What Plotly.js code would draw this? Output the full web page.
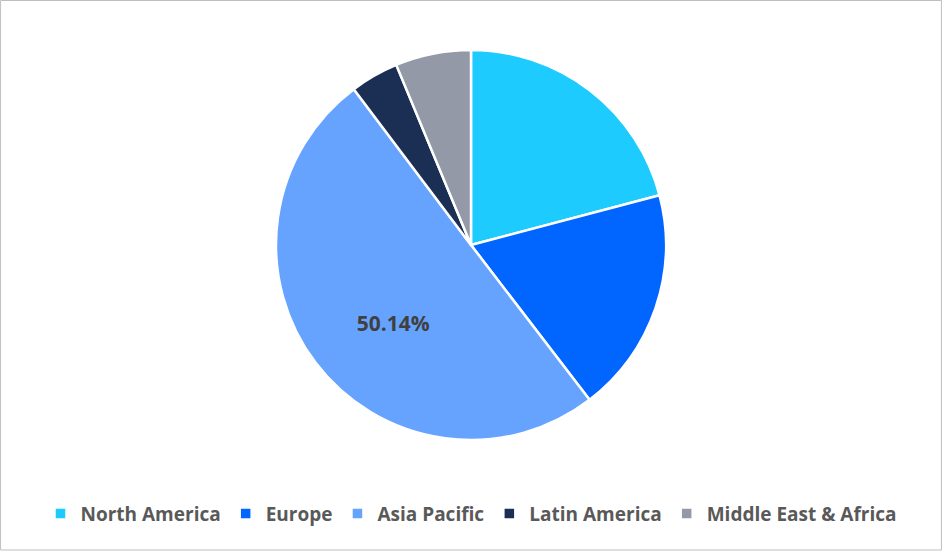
<!DOCTYPE html>
<html>
<head>
<meta charset="utf-8">
<script src="https://cdn.plot.ly/plotly-3.0.1.min.js"></script>
<style>html,body{margin:0;padding:0;background:#fff;}#chart{width:942px;height:551px;}</style>
</head>
<body>
<div id="chart"></div>
<script>
const regions = ["North America", "Europe", "Asia Pacific", "Latin America", "Middle East & Africa"];
const shares = [20.9, 18.7, 50.14, 4.0, 6.26];
const colors = ["#1ECBFF", "#0066FF", "#66A3FF", "#1B2F55", "#9399A6"];
const labelShown = [false, false, true, false, false];

const texttemplate = labelShown.map(s => s ? "<span style=\"font-size:30px\">&nbsp;</span><br>%{percent:.2%}" : "");

const trace = {
  type: "pie",
  labels: regions,
  values: shares,
  sort: false,
  direction: "clockwise",
  rotation: 0,
  marker: { colors: colors, line: { color: "#ffffff", width: 2.5 } },
  texttemplate: texttemplate,
  textposition: "inside",
  insidetextorientation: "horizontal",
  textfont: { family: "Open Sans, sans-serif", size: 21, color: "#404040", weight: "bold" },
  hoverinfo: "label+percent"
};

const layout = {
  width: 942,
  height: 551,
  margin: { l: 0, r: 0, t: 50, b: 111 },
  paper_bgcolor: "#ffffff",
  showlegend: true,
  legend: {
    orientation: "h",
    x: 0.5, xanchor: "center",
    y: -0.14, yanchor: "top",
    font: { family: "Open Sans, sans-serif", size: 19, color: "#595959", weight: "bold" },
    itemwidth: 30
  },
  shapes: [{
    type: "rect", xref: "paper", yref: "paper",
    x0: 0.0006, x1: 0.9994, y0: -110/390, y1: 1 + 49.5/390,
    line: { color: "#BFBFBF", width: 1 }
  }]
};

Plotly.newPlot("chart", [trace], layout, { displayModeBar: false, staticPlot: true });
</script>
</body>
</html>
